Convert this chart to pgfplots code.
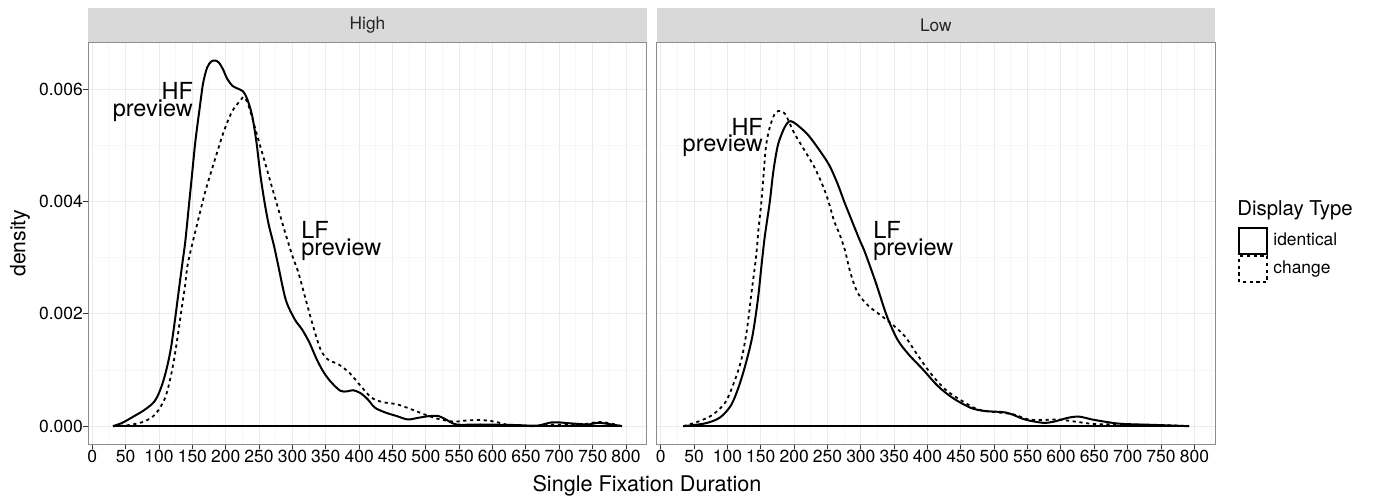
\documentclass[border=0pt]{standalone}
\usepackage{fontspec}
\setmainfont{TeX Gyre Heros}
\usepackage{pgfplots}
\pgfplotsset{compat=1.18}

\definecolor{gridmaj}{HTML}{EBEBEB}
\definecolor{gridmin}{HTML}{F6F6F6}
\definecolor{panelborder}{HTML}{8C8C8C}
\definecolor{stripfill}{HTML}{D9D9D9}
\definecolor{tickcol}{HTML}{333333}

\newcommand{\fs}[1]{\fontsize{#1}{#1}\selectfont}
\tikzset{note/.style={inner sep=0pt, font=\fs{11.75}}}

\pgfplotsset{
  panel/.style={
    scale only axis, width=279.2pt, height=201.15pt,
    xmin=-6, xmax=831, ymin=-0.000326, ymax=0.006836,
    xtick={0,50,...,800}, ytick={0,0.002,0.004,0.006},
    minor xtick={25,75,...,825}, minor ytick={0.001,0.003,0.005},
    grid=both,
    major grid style={gridmaj, line width=0.5pt},
    minor grid style={gridmin, line width=0.5pt},
    axis line style={panelborder, line width=0.6pt},
    tick align=outside, major tick length=2.5pt, minor tick length=0pt,
    xtick pos=left, ytick pos=left,
    tick style={tickcol, line width=0.5pt},
    scaled ticks=false,
    /pgf/number format/assume math mode=true,
    xticklabel style={font=\fs{8.75}, inner sep=0pt, text=black},
    yticklabel style={font=\fs{8.75}, inner sep=0pt, text=black},
    clip=false,
  },
  ident/.style={black, line width=1pt, smooth, tension=0.5},
  chg/.style={black, line width=0.9pt, dash pattern=on 1.6pt off 1.8pt, smooth, tension=0.5},
  base/.style={black, line width=1pt, forget plot},
}

\begin{document}
\begin{tikzpicture}
\useasboundingbox (0,0) rectangle (686.5pt,249pt);

% panel "High"
\begin{axis}[panel, name=L, at={(44.15pt,26.75pt)}, anchor=south west,
  yticklabels={0.000,0.002,0.004,0.006}]
\addplot[base] coordinates {(31,0) (794,0)};
\addplot[ident] coordinates {
 (31,0) (45,0.00006) (60,0.00016) (77,0.00028) (90,0.0004) (97,0.000515)
 (105,0.00075) (112,0.00105) (118,0.0014) (124,0.0019) (130,0.00245)
 (135,0.0029) (139.4,0.00329) (144.4,0.00388) (149.4,0.00447) (154.4,0.00506)
 (160.9,0.00566) (166,0.00610) (172,0.00638) (178,0.00649) (184,0.00651)
 (190,0.00647) (196,0.00635) (202,0.00619) (210,0.00606) (218,0.00601)
 (226,0.00596) (232,0.00583) (239.4,0.00554) (246,0.00506) (252,0.00447)
 (258,0.0040) (264.4,0.00359) (272,0.00323) (278,0.00290) (290,0.00225)
 (303.6,0.0019) (314.5,0.00172) (325.4,0.00149) (336.4,0.00119) (347.3,0.00095)
 (358.3,0.00078) (371.8,0.00063) (382,0.00062) (391,0.00064) (401.8,0.00059)
 (412.7,0.00048) (423.6,0.00033) (440,0.00024) (456.4,0.00018) (472.7,0.00012)
 (489,0.00015) (505.4,0.00018) (519,0.00018) (530,0.00012) (546,0.00003)
 (582,0.00003) (635,0.00002) (667,0.00001) (690,0.00007) (717,0.00005)
 (744,0.00003) (760,0.00006) (794,0)};
\addplot[chg] coordinates {
 (31,0) (55,0.00002) (74.5,0.00007) (89.5,0.00016) (100,0.0003) (109.5,0.000515)
 (116,0.0008) (122,0.00115) (128,0.0016) (134,0.0021) (139,0.0025)
 (143,0.00288) (150,0.00325) (157,0.00359) (169.4,0.00418) (184.4,0.00477)
 (196.9,0.00524) (209.4,0.0056) (222,0.0058) (227,0.00586) (232,0.00578)
 (237,0.0056) (247,0.00518) (257,0.00477) (267,0.00435) (277,0.00394)
 (287,0.00353) (299.4,0.00305) (309,0.00273) (320,0.00225) (331,0.00178)
 (342,0.00137) (352.8,0.00119) (369,0.0011) (385.4,0.00095) (402,0.00072)
 (418.3,0.00051) (434.5,0.00043) (456.4,0.00039) (478.3,0.0003) (500,0.0002)
 (521.7,0.00012) (543.5,0.00008) (559.5,0.0001) (581.7,0.00011) (603.5,0.00008)
 (625,0.00002) (663,0) (690,0.00003) (717,0.00002) (740,0.00004) (755,0.00007)
 (766,0.00007) (780,0.00004) (794,0)};
\node[note, anchor=base east] at (151.4,0.005817) {HF};
\node[note, anchor=base east] at (151.4,0.00552) {preview};
\node[note, anchor=base west] at (312.6,0.00335) {LF};
\node[note, anchor=base west] at (312.6,0.003036) {preview};
\end{axis}

% panel "Low"
\begin{axis}[panel, name=R, at={(328.35pt,26.75pt)}, anchor=south west,
  yticklabels={}, ytick style={draw=none},
  legend style={at={(1.0407,0.5425)}, anchor=north west, draw=none, fill=none,
    inner sep=0pt, row sep=0pt, column sep=2.6pt,
    nodes={inner sep=0pt}, font=\fs{8.7}},
  legend cell align=left,
  legend image code/.code={\draw[#1] (0pt,-6.6pt) rectangle (14pt,6.6pt);}]
\addplot[base] coordinates {(34,0) (792,0)};
\addplot[ident] coordinates {
 (34,0) (66.6,0.00005) (88.3,0.00015) (104.8,0.00036) (115.7,0.00066)
 (126.5,0.00107) (137.4,0.0016) (145.6,0.00225) (151,0.00285) (155.4,0.00332)
 (159.3,0.00365) (163.6,0.0040) (169,0.00455) (175.6,0.0050) (183.7,0.00527)
 (190,0.00540) (195,0.00543) (202.8,0.00538) (219,0.00521) (232.8,0.0050)
 (252,0.00466) (265,0.00432) (275,0.0040) (284.4,0.00372) (298,0.00332)
 (306,0.0031) (322.6,0.00255) (339,0.00196) (355,0.00154) (371.5,0.00128)
 (393,0.00101) (415,0.00072) (436.8,0.00051) (464,0.00033) (485.8,0.00027)
 (518.6,0.00024) (545.7,0.00012) (573,0.00006) (589,0.00008) (610.8,0.00015)
 (627.3,0.00017) (646.4,0.00012) (671,0.00007) (693,0.00004) (747,0.00002)
 (792,0)};
\addlegendentry{identical}
\addplot[chg] coordinates {
 (34,0) (55.8,0.00008) (77.5,0.0002) (96.6,0.00042) (110,0.00078) (121,0.00119)
 (129.3,0.00172) (136,0.00237) (143,0.00302) (146.5,0.0035) (151,0.0040)
 (155,0.0046) (158,0.0050) (163,0.0053) (170,0.00554) (176,0.00561)
 (181,0.00561) (187,0.00555) (193,0.0054) (200,0.00522) (211,0.0050)
 (230,0.00462) (243,0.00428) (251.5,0.0040) (260,0.00365) (268,0.00342)
 (276,0.00314) (284.4,0.00273) (295.4,0.00237) (311.7,0.00214) (328,0.00199)
 (344.3,0.00184) (366,0.0016) (382.5,0.00131) (404,0.00095) (426,0.00066)
 (447.6,0.00048) (475,0.0003) (502,0.00025) (529,0.00021) (551,0.00012)
 (573,0.00011) (594.8,0.00012) (622,0.00008) (649,0.00004) (693,0.00003)
 (747,0.00002) (792,0)};
\addlegendentry{change}
\node[note, anchor=base east] at (153.7,0.005175) {HF};
\node[note, anchor=base east] at (153.7,0.00489) {preview};
\node[note, anchor=base west] at (318,0.00335) {LF};
\node[note, anchor=base west] at (318,0.003036) {preview};
\end{axis}

% facet strips
\fill[stripfill] ([yshift=0.3pt]L.north west) rectangle ([yshift=17.2pt]L.north east);
\fill[stripfill] ([yshift=0.3pt]R.north west) rectangle ([yshift=17.2pt]R.north east);
\node[font=\fs{8.65}, text=black!85] at ([yshift=8.6pt]L.north) {High};
\node[font=\fs{8.65}, text=black!85] at ([yshift=8.6pt]R.north) {Low};

% axis titles and legend title
\node[rotate=90, font=\fs{10.6}] at (10pt,127.45pt) {density};
\node[anchor=base, font=\fs{10.8}] at (323.5pt,3.43pt) {Single Fixation Duration};
\node[anchor=base west, inner sep=0pt, font=\fs{10.2}] at (618.5pt,141pt) {Display Type};
\end{tikzpicture}
\end{document}
